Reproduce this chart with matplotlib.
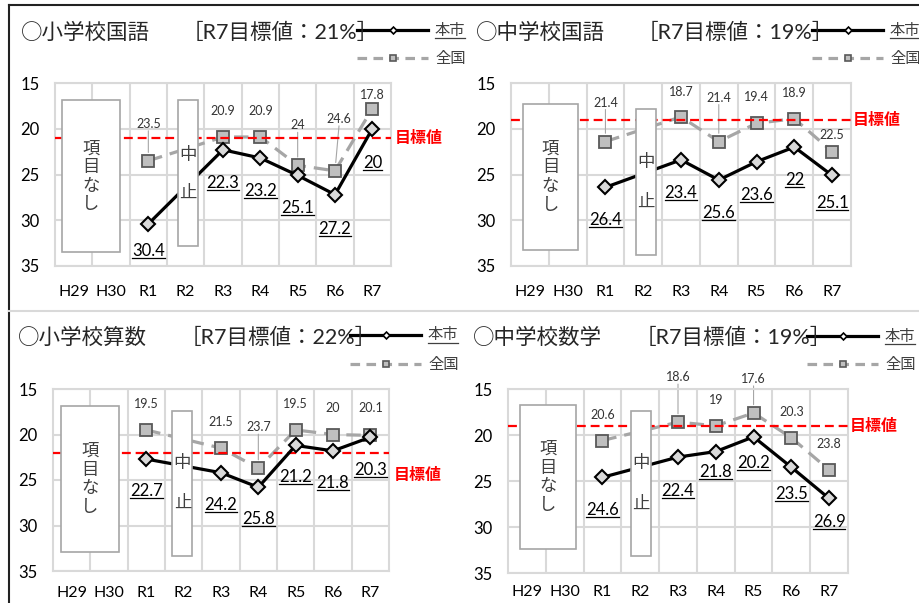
import numpy as np
import matplotlib
matplotlib.use("Agg")
import matplotlib.pyplot as plt
from matplotlib.lines import Line2D
from matplotlib.patches import Rectangle

plt.rcParams['font.family'] = ['Lato', 'Noto Sans CJK JP', 'DejaVu Sans']

nan = np.nan
years = ['H29', 'H30', 'R1', 'R2', 'R3', 'R4', 'R5', 'R6', 'R7']
titles = ['○小学校国語', '○中学校国語', '○小学校算数', '○中学校数学']
targets = [21, 19, 22, 19]

# 本市 / 全国 (%)
city_es_jp = [nan, nan, 30.4, nan, 22.3, 23.2, 25.1, 27.2, 20]
nation_es_jp = [nan, nan, 23.5, nan, 20.9, 20.9, 24, 24.6, 17.8]
city_js_jp = [nan, nan, 26.4, nan, 23.4, 25.6, 23.6, 22, 25.1]
nation_js_jp = [nan, nan, 21.4, nan, 18.7, 21.4, 19.4, 18.9, 22.5]
city_es_math = [nan, nan, 22.7, nan, 24.2, 25.8, 21.2, 21.8, 20.3]
nation_es_math = [nan, nan, 19.5, nan, 21.5, 23.7, 19.5, 20, 20.1]
city_js_math = [nan, nan, 24.6, nan, 22.4, 21.8, 20.2, 23.5, 26.9]
nation_js_math = [nan, nan, 20.6, nan, 18.6, 19, 17.6, 20.3, 23.8]

city_all = [city_es_jp, city_js_jp, city_es_math, city_js_math]
nation_all = [nation_es_jp, nation_js_jp, nation_es_math, nation_js_math]

# label offsets in pixels (nation above, city below), by panel
nat_off = [[0, 0, 37, 0, 26, 26, 40, 52, 14],
           [0, 0, 39, 0, 25, 44, 26, 26, 17],
           [0, 0, 26, 0, 26, 41, 26, 27, 27],
           [0, 0, 26, 0, 45, 26, 34, 26, 26]]
city_off = [[0, 0, 27, 0, 33, 33, 33, 34, 34],
            [0, 0, 33, 0, 33, 33, 33, 33, 28],
            [0, 0, 32, 0, 32, 32, 32, 32, 33],
            [0, 0, 33, 0, 34, 20, 26, 27, 24]]

W, H = 920, 603
fig = plt.figure(figsize=(W / 100, H / 100), dpi=100)


def fx(x):
    return x / W


def fy(y):
    return 1 - y / H


# axes boxes in pixels: left, top, right, bottom
ax_px = [(55, 83, 391, 266), (511, 83, 851, 266),
         (53, 389, 389, 571), (508, 389, 848, 573)]
xpad = [14, 14, 11, 9]
title_px = [(21, 33, 182), (476, 33, 637), (18, 338, 180), (473, 338, 635)]
legend_px = [(357, 30, 58), (812, 30, 58), (350, 335, 364), (807, 336, 364)]
goal_txt = [(395, 138), (853, 120), (394, 475), (850, 426)]
box1 = [(-0.31, 1.24, 16.9, 33.5), (-0.19, 1.28, 17.3, 33.2),
        (-0.29, 1.27, 16.9, 32.9), (-0.18, 1.29, 16.7, 32.4)]
box2 = [(2.80, 3.33, 16.9, 32.8), (2.81, 3.35, 17.8, 33.8),
        (2.70, 3.23, 17.4, 33.4), (2.75, 3.28, 17.4, 33.2)]
chu_y = [(22.9, 27.0), (23.6, 28.0), (23.1, 27.5), (23.0, 27.5)]

grid_c = '#d9d9d9'
cjk = ['Noto Sans CJK JP', 'DejaVu Sans']
underline = []

# frame lines
fig.add_artist(Line2D([fx(9), 1], [fy(5), fy(5)], color='#222222', lw=1.5))
fig.add_artist(Line2D([fx(9), fx(9)], [fy(5), 0], color='#222222', lw=1.5))
fig.add_artist(Line2D([fx(9), 1], [fy(311), fy(311)], color=grid_c, lw=1.5))

x = np.arange(len(years))

for k in range(4):
    l, t, r, b = ax_px[k]
    ax = fig.add_axes([fx(l), fy(b), (r - l) / W, (b - t) / H])
    ax.set_xlim(-0.5, 8.5)
    ax.set_ylim(35, 15)
    ax.set_yticks([15, 20, 25, 30, 35])
    ax.set_xticks(x)
    ax.set_xticklabels(years)
    ax.set_xticks(np.arange(0.5, 8, 1), minor=True)
    ax.grid(axis='y', which='major', color=grid_c, lw=1.5)
    ax.grid(axis='x', which='minor', color=grid_c, lw=1.5)
    ax.set_axisbelow(True)
    ax.tick_params(which='both', length=0)
    ax.tick_params(axis='y', labelsize=12, pad=11)
    ax.tick_params(axis='x', labelsize=11.5, pad=xpad[k])
    for s in ax.spines.values():
        s.set_color(grid_c)
        s.set_linewidth(1.5)

    city = np.array(city_all[k])
    nat = np.array(nation_all[k])
    m = ~np.isnan(city)

    ax.plot(x[m], nat[m], color='#a6a6a6', lw=2.3, dashes=(4.5, 2.5),
            marker='s', ms=8, mfc='#bfbfbf', mec='#595959', mew=1.3, zorder=3)
    ax.axhline(targets[k], color='#ff0000', lw=1.6, dashes=(4, 2.2), zorder=3.5)
    ax.plot(x[m], city[m], color='black', lw=2.3,
            marker='D', ms=7, mfc='#d9d9d9', mec='black', mew=1.5, zorder=4)

    for i in x[m]:
        dy = nat_off[k][i]
        dx = 4 if (k == 0 and i == 7) else 0
        ax.annotate(f'{nat[i]:g}', (i, nat[i]), xytext=(dx, dy),
                    textcoords='offset pixels', ha='center', va='center',
                    fontsize=9, color='#333333', zorder=6)
        if dy >= 30:
            ax.annotate('', (i, nat[i]), xytext=(dx, dy - 7),
                        textcoords='offset pixels',
                        arrowprops=dict(arrowstyle='-', color='#a6a6a6', lw=0.8,
                                        shrinkA=0, shrinkB=6), zorder=2.5)
        t = ax.annotate(f'{city[i]:g}', (i, city[i]), xytext=(0, -city_off[k][i]),
                        textcoords='offset pixels', ha='center', va='center',
                        fontsize=12, color='black', zorder=6)
        underline.append(t)

    # boxes
    x0, x1, y0, y1 = box1[k]
    ax.add_patch(Rectangle((x0, y0), x1 - x0, y1 - y0, facecolor='white',
                           edgecolor='#a6a6a6', lw=1.2, zorder=5))
    ax.text((x0 + x1) / 2, (y0 + y1) / 2, '項\n目\nな\nし', ha='center', va='center',
            fontsize=12.5, color='#404040', linespacing=1.05, zorder=6, family=cjk)
    x0, x1, y0, y1 = box2[k]
    ax.add_patch(Rectangle((x0, y0), x1 - x0, y1 - y0, facecolor='white',
                           edgecolor='#a6a6a6', lw=1.2, zorder=5))
    ax.text((x0 + x1) / 2, chu_y[k][0], '中', ha='center', va='center',
            fontsize=12.5, color='#404040', zorder=6, family=cjk)
    ax.text((x0 + x1) / 2, chu_y[k][1], '止', ha='center', va='center',
            fontsize=12.5, color='#404040', zorder=6, family=cjk)

    # titles
    tx, ty, bx = title_px[k]
    fig.text(fx(tx), fy(ty), titles[k], ha='left', va='center', fontsize=15.5,
             color='#262626', family=cjk)
    fig.text(fx(bx), fy(ty), f'［R7目標値：{targets[k]}%］', ha='left', va='center',
             fontsize=15.5, color='#262626')

    # legend
    lx, ly1, ly2 = legend_px[k]
    fig.add_artist(Line2D([fx(lx), fx(lx + 71)], [fy(ly1), fy(ly1)],
                          color='black', lw=2.3))
    fig.add_artist(Line2D([fx(lx + 36)], [fy(ly1)], marker='D', ms=3.5,
                          mfc='white', mec='black', mew=1.2))
    fig.add_artist(Line2D([fx(lx), fx(lx + 71)], [fy(ly2), fy(ly2)],
                          color='#a6a6a6', lw=2.3, dashes=(3, 2)))
    fig.add_artist(Line2D([fx(lx + 36)], [fy(ly2)], marker='s', ms=5,
                          mfc='#bfbfbf', mec='#595959', mew=1.2))
    t = fig.text(fx(lx + 78), fy(ly1), '本市', ha='left', va='center',
                 fontsize=11, color='#404040', family=cjk)
    underline.append(t)
    fig.text(fx(lx + 78), fy(ly2), '全国', ha='left', va='center',
             fontsize=11, color='#404040', family=cjk)

    gx, gy = goal_txt[k]
    fig.text(fx(gx), fy(gy), '目標値', ha='left', va='center', fontsize=11.5,
             color='#ff0000', fontweight='bold', family=cjk)

# underlines under the city labels
fig.canvas.draw()
rend = fig.canvas.get_renderer()
for t in underline:
    bb = t.get_window_extent(rend)
    yb = bb.y0 + 1
    fig.add_artist(Line2D([bb.x0 / W, bb.x1 / W], [yb / H, yb / H],
                          color=t.get_color(), lw=0.9, zorder=7))

fig.savefig('out.png', dpi=100)
